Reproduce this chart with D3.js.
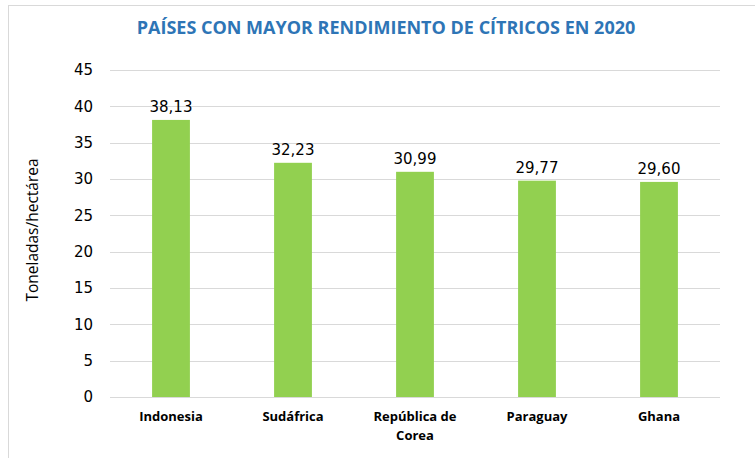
<!DOCTYPE html>
<html>
<head>
<meta charset="utf-8">
<script src="https://cdn.jsdelivr.net/npm/d3@7"></script>
<style>
body{margin:0;background:#fff;}
</style>
</head>
<body>
<div id="chart"></div>
<script>
var paises = [["Indonesia"], ["Sudáfrica"], ["República de", "Corea"], ["Paraguay"], ["Ghana"]];
var rendimiento = [38.13, 32.23, 30.99, 29.77, 29.60];
var ticks_y = [0, 5, 10, 15, 20, 25, 30, 35, 40, 45];

var W = 755, H = 458;
var margin = {left:110, right:35, top:70, bottom:61};

var svg = d3.select("#chart").append("svg")
    .attr("width", W)
    .attr("height", H);

// marco
svg.append("rect")
    .attr("x", 8.5).attr("y", 5.5)
    .attr("width", W + 10).attr("height", H + 10)
    .style("fill", "none")
    .style("stroke", "#d9d9d9");

svg.append("text")
    .attr("x", 386).attr("y", 34)
    .attr("text-anchor", "middle")
    .style("font-family", "'Open Sans', sans-serif")
    .style("font-weight", "bold")
    .style("font-size", "18px")
    .style("fill", "#2e75b6")
    .text("PAÍSES CON MAYOR RENDIMIENTO DE CÍTRICOS EN 2020");

var x = d3.scaleBand()
    .domain(d3.range(paises.length))
    .range([margin.left, W - margin.right])
    .paddingInner(0.69)
    .paddingOuter(0.345);

var y = d3.scaleLinear()
    .domain([0, 45])
    .range([H - margin.bottom, margin.top]);

// grid
svg.append("g")
    .selectAll("line")
    .data(ticks_y)
    .enter().append("line")
    .attr("x1", margin.left).attr("x2", W - margin.right)
    .attr("y1", function(d){ return Math.round(y(d)) + 0.5; })
    .attr("y2", function(d){ return Math.round(y(d)) + 0.5; })
    .style("stroke", "#d9d9d9")
    .style("stroke-width", 1);

// eje y
var yAxis = svg.append("g")
    .attr("transform", "translate(" + margin.left + ",0)")
    .call(d3.axisLeft(y).tickValues(ticks_y).tickSize(0).tickPadding(17));
yAxis.select(".domain").remove();
yAxis.selectAll("text")
    .style("font-family", "'DejaVu Sans', sans-serif")
    .style("font-size", "15px")
    .style("fill", "#000");

svg.append("text")
    .attr("transform", "translate(38,230) rotate(-90)")
    .attr("text-anchor", "middle")
    .style("font-family", "'Open Sans', sans-serif")
    .style("font-size", "15.5px")
    .style("fill", "#000")
    .text("Toneladas/hectárea");

// barras
svg.append("g")
    .selectAll("rect")
    .data(rendimiento)
    .enter().append("rect")
    .attr("x", function(d, i){ return x(i); })
    .attr("y", function(d){ return y(d); })
    .attr("width", x.bandwidth())
    .attr("height", function(d){ return y(0) - y(d); })
    .style("fill", "#92d050");

var fmt = d3.format(".2f");
svg.append("g")
    .selectAll("text")
    .data(rendimiento)
    .enter().append("text")
    .attr("x", function(d, i){ return x(i) + x.bandwidth() / 2; })
    .attr("y", function(d){ return y(d) - 8; })
    .attr("text-anchor", "middle")
    .style("font-family", "'DejaVu Sans', sans-serif")
    .style("font-size", "15px")
    .style("fill", "#000")
    .text(function(d){ return fmt(d).replace(".", ","); });

// categorias
var cat = svg.append("g")
    .selectAll("text")
    .data(paises)
    .enter().append("text")
    .attr("x", function(d, i){ return x(i) + x.bandwidth() / 2; })
    .attr("y", y(0) + 24)
    .attr("text-anchor", "middle")
    .style("font-family", "'Open Sans', sans-serif")
    .style("font-weight", "bold")
    .style("font-size", "13px")
    .style("fill", "#000");
cat.selectAll("tspan")
    .data(function(d){ return d; })
    .enter().append("tspan")
    .attr("x", function(){ return d3.select(this.parentNode).attr("x"); })
    .attr("dy", function(d, i){ return i == 0 ? 0 : 19; })
    .text(function(d){ return d; });
</script>
</body>
</html>
